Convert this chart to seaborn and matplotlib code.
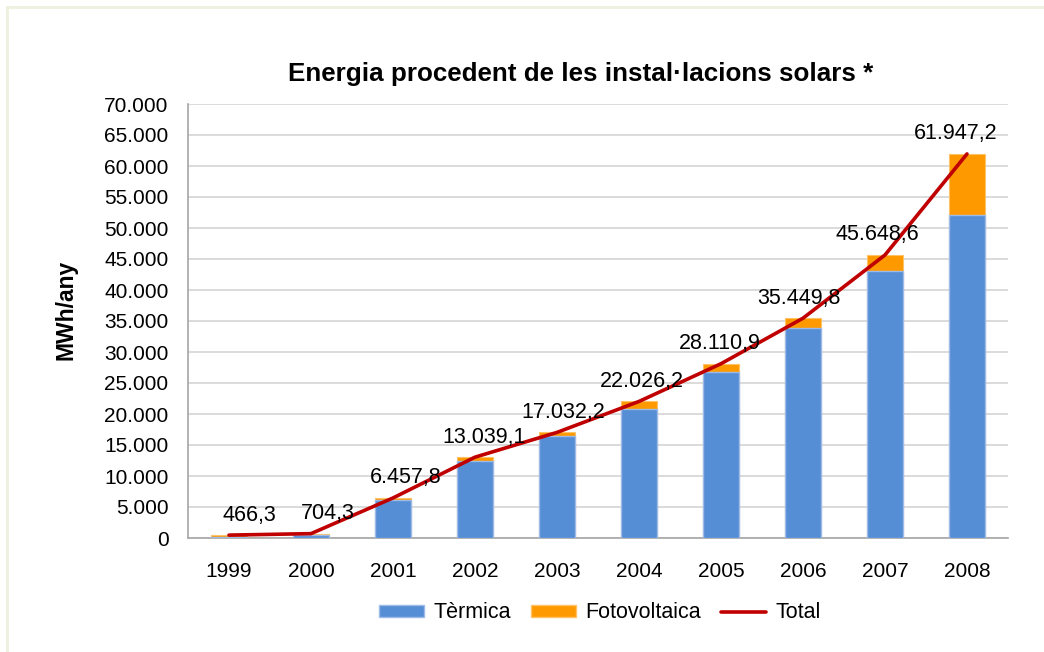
import matplotlib
matplotlib.use("Agg")
import matplotlib.pyplot as plt
import seaborn as sns
import numpy as np
import pandas as pd
from matplotlib.ticker import FuncFormatter, MultipleLocator
from matplotlib.patches import Patch
from matplotlib.lines import Line2D

years = ["1999", "2000", "2001", "2002", "2003", "2004", "2005", "2006", "2007", "2008"]
total = [466.3, 704.3, 6457.8, 13039.1, 17032.2, 22026.2, 28110.9, 35449.8, 45648.6, 61947.2]
termica = [110, 420, 6100, 12500, 16500, 20750, 26720, 33920, 43060, 52150]
title = "Energia procedent de les instal·lacions solars *"
ylabel = "MWh/any"
legend_labels = ["Tèrmica", "Fotovoltaica", "Total"]

sns.set_theme(style="white")
plt.rcParams["font.family"] = ["Liberation Sans", "DejaVu Sans"]
plt.rcParams["text.color"] = "black"
plt.rcParams["axes.labelcolor"] = "black"

BLUE = "#558ED5"
ORANGE = "#FF9900"
RED = "#C00000"

df = pd.DataFrame({"year": years, "total": total, "termica": termica})

fig = plt.figure(figsize=(10.44, 6.52), dpi=100)
ax = fig.add_axes([188 / 1044, 1 - 538 / 652, (1008 - 188) / 1044, (538 - 104) / 652])

sns.barplot(data=df, x="year", y="total", color=ORANGE, saturation=1, width=0.43,
            ax=ax, edgecolor="#FFC266", linewidth=0.8, zorder=3)
sns.barplot(data=df, x="year", y="termica", color=BLUE, saturation=1, width=0.43,
            ax=ax, edgecolor="#9DBBE6", linewidth=1.0, zorder=3)
sns.lineplot(x=np.arange(len(years)), y=df["total"], color=RED, linewidth=2.6, ax=ax,
             zorder=4)

def fmt_label(v):
    s = f"{v:,.1f}"
    return s.replace(",", "X").replace(".", ",").replace("X", ".")

for i, v in enumerate(total):
    ax.annotate(fmt_label(v), (i, v), xytext=(20 - 3.5 * i, 20), textcoords="offset pixels",
                ha="center", va="center", fontsize=15.5, color="black", zorder=5)

ax.set_ylim(0, 70000)
ax.set_xlim(-0.5, len(years) - 0.5)
ax.yaxis.set_major_locator(MultipleLocator(5000))
ax.yaxis.set_major_formatter(FuncFormatter(lambda v, p: f"{int(v):,}".replace(",", ".")))
ax.grid(axis="y", color="#D4D4D4", linewidth=1.2, zorder=0)
ax.set_axisbelow(True)
for side in ["top", "right"]:
    ax.spines[side].set_visible(False)
for side in ["left", "bottom"]:
    ax.spines[side].set_color("#A6A6A6")
    ax.spines[side].set_linewidth(1.2)
ax.tick_params(axis="both", labelsize=15, colors="black", length=0)
ax.tick_params(axis="x", pad=17)
ax.tick_params(axis="y", pad=14)
ax.set_xlabel("")
ax.set_ylabel(ylabel, fontsize=16.5, fontweight="bold", color="black")
ax.yaxis.set_label_coords(-0.135, 0.525)

fig.text(581 / 1044, 1 - 74 / 652, title, ha="center", va="center", fontsize=18.7,
         fontweight="bold", color="black")

handles = [Patch(facecolor=BLUE, edgecolor="#9DBBE6"),
           Patch(facecolor=ORANGE, edgecolor="#FFC266"),
           Line2D([0], [0], color=RED, linewidth=2.6)]
leg = fig.legend(handles, legend_labels, loc="center", bbox_to_anchor=(600 / 1044, 1 - 613 / 652),
                 ncol=3, frameon=False, fontsize=15.5, handlelength=2.1, handleheight=0.45,
                 columnspacing=0.9, handletextpad=0.45)
for t in leg.get_texts():
    t.set_color("black")

# frame border (top and left edges visible)
fig.add_artist(Line2D([7 / 1044, 7 / 1044], [0, 1 - 7 / 652], transform=fig.transFigure,
                      color="#EBF1DE", linewidth=2))
fig.add_artist(Line2D([7 / 1044, 1], [1 - 7 / 652, 1 - 7 / 652], transform=fig.transFigure,
                      color="#EBF1DE", linewidth=2))

fig.savefig("out.png", dpi=100)
